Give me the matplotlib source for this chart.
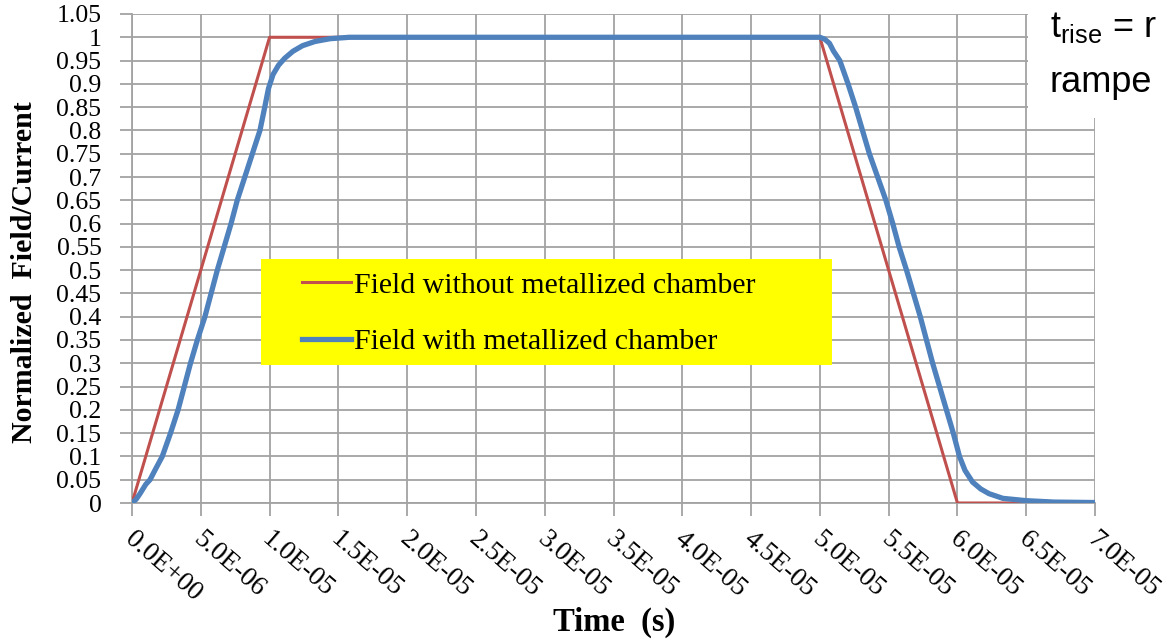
import matplotlib
matplotlib.use("Agg")
import matplotlib.pyplot as plt
import matplotlib.transforms as mtransforms
from matplotlib.patches import Rectangle
import numpy as np

# ideal trapezoid (time in microseconds)
t_ideal = [0, 10, 50, 60, 65]
v_ideal = [0, 1, 1, 0, 0]

# measured field with metallized chamber (time in microseconds)
t_meas = [0, 0.3, 0.58, 1.0, 1.31, 1.75, 2.2, 2.8, 3.35, 3.8, 4.25,
          4.75, 5.3, 5.75, 6.2, 6.7, 7.2, 7.65, 8.2, 8.75, 9.3, 9.65, 9.92,
          10.25, 10.65, 11.1, 11.7, 12.4, 13.3, 14.4, 15.8, 30.0, 50.0, 50.35,
          50.7, 51.0, 51.45, 52.05, 52.6, 53.1, 53.6, 54.2, 54.8, 55.3, 55.76,
          56.3, 56.8, 57.3, 57.75, 58.2, 58.7, 59.2, 59.7, 60.15, 60.55, 61.1,
          61.7, 62.3, 63.3, 65.0, 67.0, 70.0]
v_meas = [0, 0.008, 0.02, 0.04, 0.05, 0.075, 0.1, 0.15, 0.2, 0.25, 0.3,
          0.35, 0.4, 0.45, 0.5, 0.55, 0.6, 0.65, 0.7, 0.75, 0.8, 0.85, 0.89,
          0.92, 0.94, 0.955, 0.97, 0.982, 0.991, 0.997, 1.0, 1.0, 1.0, 0.996,
          0.987, 0.97, 0.95, 0.9, 0.85, 0.8, 0.75, 0.7, 0.65, 0.6, 0.55,
          0.5, 0.45, 0.4, 0.35, 0.3, 0.25, 0.2, 0.15, 0.1, 0.07, 0.045,
          0.03, 0.02, 0.01, 0.005, 0.002, 0.001]

label_ideal = "Field without metallized chamber"
label_meas = "Field with metallized chamber"

serif = "Liberation Serif"
grid_col = "#a3a3a3"
W, H = 1173, 640

fig = plt.figure(figsize=(W / 100, H / 100), dpi=100)
ax = fig.add_axes([132 / W, 1 - 503 / H, 963 / W, 489 / H])

ax.plot(np.array(t_ideal) * 1e-6, v_ideal, color="#c0504d", lw=2.2, zorder=3)
ax.plot(np.array(t_meas) * 1e-6, v_meas, color="#4f81bd", lw=3.8, zorder=4)

ax.set_xlim(0, 7e-5)
ax.set_ylim(0, 1.05)
xt = np.arange(0, 7.01e-5, 5e-6)
yt = np.arange(0, 1.051, 0.05)
ax.set_xticks(xt)
ax.set_yticks(yt)
ax.set_xticklabels(["%.1E" % v for v in xt], rotation=-41, ha="left", va="top",
                   rotation_mode="anchor", fontfamily=serif, fontsize=19.5)
ax.set_yticklabels(["%g" % round(v, 2) for v in yt], fontfamily=serif, fontsize=18.5)
ax.tick_params(axis="both", direction="out", length=9, width=1.3, color=grid_col)
ax.tick_params(axis="x", pad=8)
ax.tick_params(axis="y", pad=13)

# nudge x labels a little to the right
off = mtransforms.ScaledTranslation(4 / 100, 0, fig.dpi_scale_trans)
for lab in ax.get_xticklabels():
    lab.set_transform(lab.get_transform() + off)

ax.grid(True, color=grid_col, lw=1.3)
ax.set_axisbelow(True)
for s in ["top", "right"]:
    ax.spines[s].set_visible(False)
for s in ["left", "bottom"]:
    ax.spines[s].set_color(grid_col)
    ax.spines[s].set_linewidth(1.3)

ax.set_xlabel("Time  (s)", fontfamily=serif, fontweight="bold", fontsize=23.5)
ax.set_ylabel("Normalized  Field/Current", fontfamily=serif, fontweight="bold",
              fontsize=21.5)
ax.xaxis.set_label_coords((614 - 132) / 963, -(622 - 503) / 489)
ax.yaxis.set_label_coords(-(132 - 25) / 963, (503 - 272) / 489)
ax.xaxis.label.set_va("center")
ax.yaxis.label.set_va("center")

# yellow legend panel
ax.add_patch(Rectangle(((261 - 132) / 963, (503 - 365) / 489), 571 / 963, 106 / 489,
                       transform=ax.transAxes, facecolor="#ffff00", edgecolor="none",
                       zorder=5))
leg = ax.legend(ax.get_lines(), [label_ideal, label_meas], loc="upper left",
                bbox_to_anchor=((302 - 132) / 963, (503 - 272) / 489),
                frameon=False, borderpad=0, borderaxespad=0, handlelength=1.65,
                handletextpad=0.1, labelspacing=0.98,
                prop={"family": serif, "size": 21.5})
leg.set_zorder(6)

# annotation panel at the upper right
fig.patches.append(Rectangle((1028 / W, 1 - 118 / H), 200 / W, 118 / H,
                             transform=fig.transFigure, facecolor="white",
                             edgecolor="none", zorder=10))
fig.text(1050 / W, 1 - 37 / H, r"t$_\mathregular{rise}$ = r",
         fontfamily="Liberation Sans", fontsize=26, va="baseline", zorder=11)
fig.text(1050 / W, 1 - 92 / H, "rampe", fontfamily="Liberation Sans",
         fontsize=26, va="baseline", zorder=11)

fig.savefig("out.png", dpi=100)
